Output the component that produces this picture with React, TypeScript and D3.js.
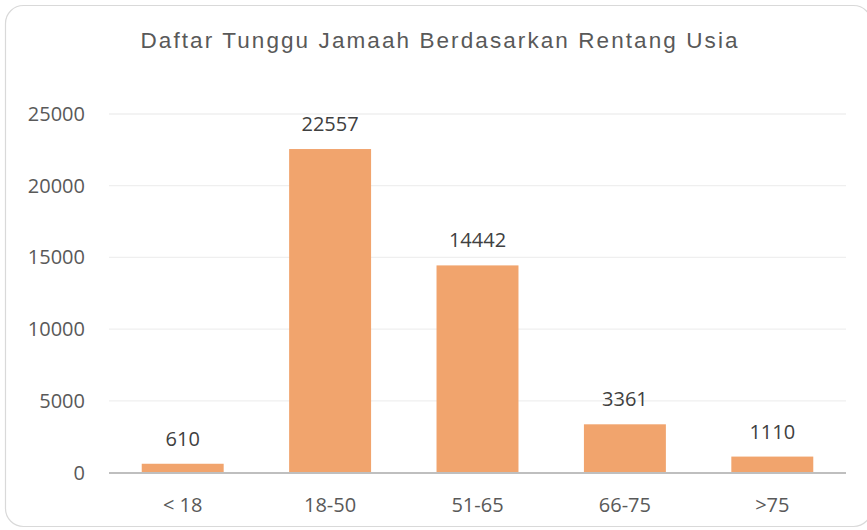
import React from "react";
import * as d3 from "d3";

const categories = ["< 18", "18-50", "51-65", "66-75", ">75"];
const values = [610, 22557, 14442, 3361, 1110];
const yTicks = [0, 5000, 10000, 15000, 20000, 25000];
const title = "Daftar Tunggu Jamaah Berdasarkan Rentang Usia";

const W = 867;
const H = 530;
const plot = { left: 109, right: 846, top: 114, bottom: 472.5 };

export default function App() {
  const x = d3
    .scaleBand<string>()
    .domain(categories)
    .range([plot.left, plot.right])
    .paddingInner(0.444)
    .paddingOuter(0.222);
  const y = d3.scaleLinear().domain([0, 25000]).range([plot.bottom, plot.top]);
  const font = "'Open Sans', 'Noto Sans', sans-serif";
  return (
    <svg
      width={W}
      height={H}
      style={{ position: "absolute", left: 0, top: 0, background: "#fff" }}
    >
      <rect x={5.5} y={5.5} width={866} height={521} rx={18} ry={18} fill="#fff" stroke="#d9d9d9" strokeWidth={1.2} />
      <text
        x={439}
        y={47.5}
        textAnchor="middle"
        fill="#595959"
        fontFamily="'Liberation Sans Narrow', 'Liberation Sans', Arial, sans-serif"
        fontSize={22.5}
        textLength={597}
        lengthAdjust="spacing"
      >
        {title}
      </text>
      {yTicks.map((t) => (
        <g key={t}>
          {t !== 0 && (
            <line x1={plot.left} x2={plot.right} y1={y(t)} y2={y(t)} stroke="#efefef" strokeWidth={1.3} />
          )}
          <text
            x={85}
            y={y(t)}
            dy="0.35em"
            textAnchor="end"
            fill="#595959"
            fontFamily={font}
            fontSize={20}
          >
            {t}
          </text>
        </g>
      ))}
      {categories.map((c, i) => {
        const bx = x(c) as number;
        const by = y(values[i]);
        return (
          <g key={c}>
            <rect x={bx} y={by} width={x.bandwidth()} height={plot.bottom - by} fill="#F1A46D" />
            <text
              x={bx + x.bandwidth() / 2}
              y={by - 18}
              textAnchor="middle"
              fill="#404040"
              fontFamily={font}
              fontSize={20}
            >
              {values[i]}
            </text>
            <text
              x={bx + x.bandwidth() / 2}
              y={512}
              textAnchor="middle"
              fill="#595959"
              fontFamily={font}
              fontSize={20}
            >
              {c}
            </text>
          </g>
        );
      })}
      <line x1={plot.left} x2={plot.right} y1={plot.bottom + 0.5} y2={plot.bottom + 0.5} stroke="#bfbfbf" strokeWidth={2} />
    </svg>
  );
}
